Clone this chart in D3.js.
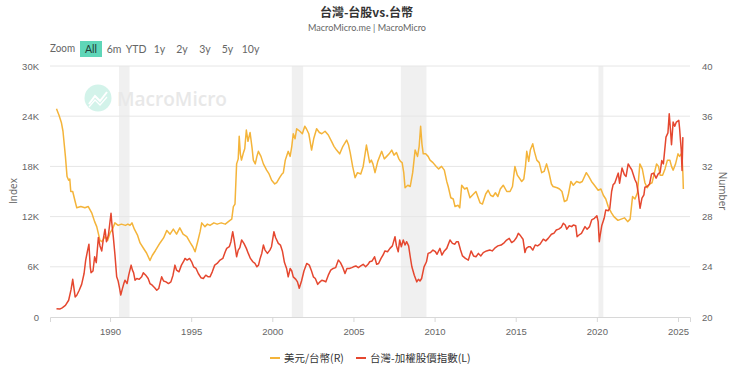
<!DOCTYPE html>
<html><head><meta charset="utf-8">
<script src="https://cdn.jsdelivr.net/npm/d3@7/dist/d3.min.js"></script>
<style>
body{margin:0;background:#fff;}
svg{display:block;font-family:"Open Sans","Noto Sans CJK TC",sans-serif;}
</style></head>
<body>
<svg id="chart" width="740" height="369"></svg>
<script>
// ---- data (decimal years) ----
const taiexDates = [1986.70,1986.90,1987.05,1987.25,1987.45,1987.60,1987.70,1987.78,1987.85,1987.95,1988.10,1988.25,1988.40,1988.50,1988.62,1988.70,1988.78,1988.83,1988.95,1989.05,1989.15,1989.28,1989.38,1989.49,1989.60,1989.69,1989.78,1989.90,1990.06,1990.12,1990.20,1990.30,1990.41,1990.50,1990.58,1990.66,1990.75,1990.85,1990.92,1991.05,1991.15,1991.30,1991.38,1991.45,1991.54,1991.65,1991.80,1991.95,1992.05,1992.20,1992.35,1992.46,1992.60,1992.75,1992.88,1993.00,1993.10,1993.18,1993.30,1993.45,1993.60,1993.75,1993.88,1994.00,1994.10,1994.25,1994.40,1994.55,1994.62,1994.75,1994.90,1995.03,1995.15,1995.30,1995.44,1995.60,1995.75,1995.90,1996.05,1996.16,1996.30,1996.45,1996.60,1996.78,1996.95,1997.10,1997.19,1997.35,1997.45,1997.56,1997.65,1997.80,1997.90,1998.00,1998.11,1998.25,1998.40,1998.52,1998.65,1998.80,1998.93,1999.05,1999.15,1999.25,1999.35,1999.45,1999.55,1999.70,1999.85,1999.95,2000.10,2000.20,2000.37,2000.50,2000.62,2000.75,2000.88,2000.98,2001.10,2001.20,2001.29,2001.45,2001.55,2001.66,2001.80,2001.95,2002.12,2002.28,2002.40,2002.53,2002.65,2002.80,2002.94,2003.05,2003.20,2003.30,2003.45,2003.60,2003.75,2003.90,2004.07,2004.20,2004.35,2004.48,2004.60,2004.75,2004.90,2005.00,2005.15,2005.30,2005.45,2005.60,2005.75,2005.90,2006.00,2006.15,2006.30,2006.43,2006.55,2006.70,2006.85,2006.94,2007.10,2007.25,2007.40,2007.56,2007.65,2007.76,2007.85,2007.95,2008.07,2008.18,2008.28,2008.40,2008.50,2008.60,2008.75,2008.90,2009.00,2009.10,2009.20,2009.35,2009.50,2009.60,2009.75,2009.90,2010.05,2010.15,2010.33,2010.45,2010.60,2010.75,2010.95,2011.10,2011.25,2011.35,2011.46,2011.60,2011.72,2011.90,2012.08,2012.25,2012.40,2012.55,2012.70,2012.85,2013.00,2013.20,2013.40,2013.55,2013.75,2013.90,2014.10,2014.30,2014.44,2014.60,2014.75,2014.90,2015.05,2015.16,2015.30,2015.45,2015.57,2015.65,2015.80,2015.90,2016.05,2016.20,2016.35,2016.50,2016.70,2016.85,2017.00,2017.20,2017.35,2017.50,2017.65,2017.80,2017.93,2018.05,2018.15,2018.30,2018.45,2018.55,2018.70,2018.78,2018.90,2019.05,2019.27,2019.40,2019.55,2019.68,2019.85,2020.00,2020.08,2020.15,2020.20,2020.30,2020.45,2020.55,2020.70,2020.80,2020.91,2021.00,2021.10,2021.32,2021.40,2021.55,2021.70,2021.80,2021.93,2022.05,2022.15,2022.35,2022.45,2022.55,2022.66,2022.78,2022.90,2022.96,2023.10,2023.25,2023.37,2023.50,2023.65,2023.78,2023.90,2024.00,2024.10,2024.26,2024.38,2024.46,2024.55,2024.60,2024.70,2024.80,2024.90,2025.05,2025.10,2025.15,2025.20,2025.25,2025.30];
const taiexValues = [1000,950,1100,1400,2000,3300,4500,3400,2400,2600,3200,3900,5200,6800,8000,8700,6000,5300,5500,7200,6500,9500,8500,7900,9500,10500,9000,9800,12400,11000,9600,7500,4800,4300,3500,2630,3300,4000,4400,4000,5000,6200,5600,5300,4400,4600,4500,4800,5300,5000,4600,4000,3800,3500,3200,3400,4200,4800,4300,4200,4000,4200,5000,6200,5600,5400,6200,6700,7000,6800,7000,6600,6000,5800,5200,4700,4600,5000,4800,4800,5400,6200,6400,6800,7000,7800,8200,8400,9000,10200,9200,7200,8000,8300,9200,8800,8200,7600,7000,6600,6400,6000,6200,7000,7600,8600,8000,7600,8000,8400,10200,9500,8800,8600,7900,6500,5800,4800,5800,5500,4800,4500,4200,3430,4300,5500,6400,6200,5600,4800,4600,3900,4200,4400,4300,4200,5000,5600,5800,5900,6800,6500,5900,5200,5800,5800,5900,6000,6100,5900,6100,6300,6000,6300,6600,6700,7200,6300,6400,7000,7500,7900,7800,8200,8500,9600,8500,7800,9200,8400,9200,8600,9000,8500,7200,6000,5000,4200,4500,4300,4600,6000,6600,7600,7700,8000,7800,7500,8200,7400,7900,8200,9200,8800,8700,9000,9000,8000,7300,7000,6800,7900,7300,7200,7600,7300,7700,7900,8000,7900,8300,8500,8600,8900,9200,9400,8900,9100,9500,10000,9700,9300,7700,8200,8400,8400,8000,8600,8500,8700,9300,9100,9400,9900,10000,10400,10500,10700,11200,11000,10500,10900,10800,11000,10900,9600,9800,10000,10800,10500,10800,11600,11800,12100,11400,9000,9700,10900,11800,12800,12700,13000,15000,15800,16000,17200,16000,17800,17000,16800,18300,17900,17600,16400,16000,14800,13000,14200,14600,15500,15600,15900,17100,17200,16600,17100,17300,18700,18300,21500,22000,24300,22000,20600,23300,22800,23300,23500,22500,21200,20000,17500,21500];

const usdDates = [1986.70,1986.85,1987.00,1987.10,1987.25,1987.35,1987.45,1987.52,1987.58,1987.70,1987.85,1987.95,1988.20,1988.45,1988.66,1988.87,1989.05,1989.18,1989.38,1989.50,1989.69,1989.85,1990.00,1990.15,1990.30,1990.50,1990.70,1990.95,1991.10,1991.23,1991.35,1991.50,1991.70,1991.85,1992.05,1992.25,1992.46,1992.60,1992.80,1993.08,1993.30,1993.50,1993.70,1993.90,1994.10,1994.30,1994.50,1994.73,1994.95,1995.10,1995.24,1995.40,1995.55,1995.65,1995.85,1996.00,1996.16,1996.40,1996.60,1996.85,1997.10,1997.39,1997.50,1997.60,1997.70,1997.80,1997.90,1997.96,1998.03,1998.10,1998.20,1998.30,1998.40,1998.50,1998.63,1998.75,1998.83,1998.95,1999.05,1999.14,1999.30,1999.45,1999.65,1999.80,1999.96,2000.15,2000.27,2000.45,2000.60,2000.68,2000.80,2000.98,2001.10,2001.20,2001.29,2001.40,2001.50,2001.70,2001.85,2002.00,2002.10,2002.25,2002.42,2002.55,2002.73,2002.90,2003.05,2003.25,2003.45,2003.65,2003.80,2003.96,2004.15,2004.35,2004.58,2004.70,2004.80,2004.95,2005.10,2005.25,2005.45,2005.60,2005.80,2005.90,2006.00,2006.10,2006.20,2006.33,2006.50,2006.74,2006.90,2007.05,2007.20,2007.36,2007.50,2007.65,2007.80,2007.90,2008.00,2008.10,2008.18,2008.35,2008.50,2008.65,2008.80,2008.95,2009.05,2009.14,2009.22,2009.30,2009.45,2009.60,2009.72,2009.90,2010.10,2010.25,2010.43,2010.60,2010.75,2010.84,2011.00,2011.15,2011.26,2011.45,2011.55,2011.67,2011.85,2012.00,2012.18,2012.40,2012.55,2012.80,2012.95,2013.15,2013.30,2013.45,2013.60,2013.75,2013.90,2014.05,2014.23,2014.45,2014.65,2014.80,2014.95,2015.10,2015.37,2015.50,2015.60,2015.68,2015.80,2015.90,2016.05,2016.15,2016.30,2016.45,2016.60,2016.75,2016.90,2017.05,2017.20,2017.30,2017.55,2017.70,2017.85,2018.00,2018.15,2018.25,2018.40,2018.55,2018.75,2018.95,2019.10,2019.35,2019.50,2019.67,2019.85,2020.08,2020.25,2020.40,2020.55,2020.70,2020.90,2021.05,2021.30,2021.50,2021.70,2021.90,2022.05,2022.20,2022.35,2022.50,2022.65,2022.80,2022.96,2023.10,2023.25,2023.40,2023.55,2023.68,2023.80,2023.90,2024.05,2024.20,2024.35,2024.50,2024.60,2024.70,2024.85,2025.00,2025.10,2025.20,2025.25,2025.30,2025.33];
const usdValues = [36.6,36.1,35.5,34.8,32.8,31.2,30.9,31.0,30.0,30.0,29.2,28.7,28.8,28.7,28.8,28.3,27.6,27.2,26.1,26.0,26.4,26.1,26.7,27.0,27.5,27.3,27.4,27.3,27.4,27.3,27.5,27.0,26.5,25.9,25.5,25.1,24.5,24.9,25.3,25.9,26.3,26.9,26.6,27.0,26.6,27.1,26.6,26.4,25.9,25.6,25.2,26.0,26.8,27.5,27.2,27.4,27.3,27.5,27.4,27.5,27.4,27.7,27.8,28.8,29.0,32.2,32.6,34.4,33.0,32.5,33.0,33.4,34.9,34.0,34.7,33.5,32.5,32.2,32.8,33.2,32.8,32.2,31.7,31.4,30.9,30.6,30.7,31.1,31.4,31.5,32.5,33.2,32.8,33.6,34.6,34.2,35.0,34.8,34.6,35.2,35.0,34.6,33.3,34.2,35.0,34.7,34.6,34.8,34.5,34.0,33.6,33.3,33.0,33.6,34.1,33.7,33.1,32.0,31.1,31.5,31.4,32.0,33.7,33.0,32.3,32.5,32.2,31.5,32.4,33.2,32.6,32.8,33.0,33.3,32.9,33.1,32.6,32.4,32.3,31.5,30.3,30.5,30.4,31.5,33.3,32.8,33.6,35.2,33.8,33.0,33.0,32.8,32.5,32.3,32.0,31.8,32.0,31.7,30.8,30.4,29.5,29.4,28.8,28.9,28.7,30.5,30.2,30.3,29.5,29.8,30.0,29.1,29.0,29.8,30.1,29.7,29.6,29.9,29.6,30.2,30.5,30.0,30.0,30.4,32.0,31.3,30.8,31.0,32.0,33.2,32.4,33.3,33.8,33.2,32.5,32.3,31.5,31.6,32.2,31.5,30.6,30.4,30.3,30.2,30.0,29.2,29.3,29.8,30.8,30.5,30.8,30.7,30.8,31.5,31.2,30.8,30.5,30.1,30.2,29.7,29.4,28.8,28.3,28.0,27.7,27.8,27.9,27.6,27.8,29.6,29.4,29.9,32.2,31.8,30.7,30.3,30.6,30.7,31.5,32.2,32.0,31.3,31.3,31.8,32.5,32.5,32.0,31.7,32.2,33.0,32.8,33.0,32.8,31.5,30.2];

const leftTicks = [0,6000,12000,18000,24000,30000];
const rightTicks = [20,24,28,32,36,40];
const xTicks = [1990,1995,2000,2005,2010,2015,2020,2025];
const bands = [[1990.55,1991.2],[2001.2,2001.9],[2007.92,2009.5],[2020.1,2020.4]];
const seriesNames = ["美元/台幣(R)","台灣-加權股價指數(L)"];
const zoomButtons = ["6m","YTD","1y","2y","3y","5y","10y"];

const cUSD = "#f4b43a", cTW = "#e5472f";

const svg = d3.select("#chart");
const L = 50, R = 690, T = 66, B = 317;
const x = d3.scaleLinear().domain([1986.3, 2025.74]).range([L, R]);
const yL = d3.scaleLinear().domain([0,30000]).range([B, T]);
const yR = d3.scaleLinear().domain([20,40]).range([B, T]);

// title
svg.append("text").attr("x",366.5).attr("y",17).attr("text-anchor","middle")
  .attr("font-size",12).attr("font-weight","bold").attr("fill","#333")
  .attr("font-family","'Noto Sans CJK TC',sans-serif").text("台灣-台股vs.台幣");
svg.append("text").attr("x",367).attr("y",31).attr("text-anchor","middle")
  .attr("font-size",10).attr("fill","#666").attr("font-family","Lato,sans-serif")
  .attr("textLength",118).attr("lengthAdjust","spacingAndGlyphs").text("MacroMicro.me | MacroMicro");

// zoom buttons
const bf = "Lato,sans-serif";
svg.append("text").attr("x",50).attr("y",52).attr("font-size",10.5).attr("font-family",bf).attr("fill","#666")
  .attr("textLength",25).attr("lengthAdjust","spacingAndGlyphs").text("Zoom");
svg.append("rect").attr("x",80).attr("y",41).attr("width",22).attr("height",16).attr("fill","#5fd6b8");
svg.append("text").attr("x",91).attr("y",52.5).attr("text-anchor","middle").attr("font-size",10.5).attr("font-family",bf).attr("fill","#1f3b35").text("All");
const btnX = [114,136,159.5,182,205,227.5,250.5];
zoomButtons.forEach((b,i)=>{
  svg.append("text").attr("x",btnX[i]).attr("y",52.5).attr("text-anchor","middle").attr("font-size",10.5).attr("font-family",bf).attr("fill","#666").text(b);
});

// plot bands
svg.append("g").selectAll("rect").data(bands).join("rect")
  .attr("x",d=>x(d[0])).attr("width",d=>x(d[1])-x(d[0]))
  .attr("y",T).attr("height",B-T).attr("fill","#f0f0f0");

// gridlines
svg.append("g").selectAll("line").data(leftTicks.slice(1)).join("line")
  .attr("x1",L).attr("x2",R).attr("y1",d=>yL(d)).attr("y2",d=>yL(d))
  .attr("stroke","#e6e6e6").attr("stroke-width",1);

// watermark
const wm = svg.append("g");
wm.append("circle").attr("cx",98).attr("cy",98).attr("r",13.5).attr("fill","#d3f3ea");
wm.append("path").attr("d","M89,104 L95,96 L100,101 L107,92").attr("stroke","#fff").attr("stroke-width",2).attr("fill","none");
wm.append("path").attr("d","M89,107 L95,100 L100,105 L107,97").attr("stroke","#fff").attr("stroke-width",1.2).attr("fill","none");
wm.append("text").attr("x",117).attr("y",106).attr("font-size",19).attr("font-weight",600)
  .attr("fill","#e8e8e8").attr("textLength",110).attr("lengthAdjust","spacingAndGlyphs").text("MacroMicro");

// x axis
const xa = svg.append("g").attr("transform",`translate(0,${B})`)
  .call(d3.axisBottom(x).tickValues(xTicks).tickFormat(d3.format("d")).tickSize(5).tickPadding(6));
xa.select(".domain").attr("stroke","#d8d8d8");
xa.selectAll(".tick line").attr("stroke","#d8d8d8");
xa.selectAll("text").attr("fill","#666").attr("font-size",9.5);

// left axis
const la = svg.append("g").attr("transform",`translate(${L-8},0)`)
  .call(d3.axisLeft(yL).tickValues(leftTicks).tickSize(0).tickFormat(d=>d===0?"0":(d/1000)+"K"));
la.select(".domain").remove();
la.selectAll("text").attr("fill","#666").attr("font-size",9.5);

// right axis
const ra = svg.append("g").attr("transform",`translate(${R+9},0)`)
  .call(d3.axisRight(yR).tickValues(rightTicks).tickSize(0));
ra.select(".domain").remove();
ra.selectAll("text").attr("fill","#666").attr("font-size",9.5);

// axis titles
svg.append("text").attr("transform","translate(17,191) rotate(-90)").attr("text-anchor","middle")
  .attr("font-size",10).attr("fill","#666").text("Index");
svg.append("text").attr("transform","translate(719,191) rotate(90)").attr("text-anchor","middle")
  .attr("font-size",10).attr("fill","#666").text("Number");

// lines
const twData = taiexDates.map((d,i)=>[d,taiexValues[i]]);
const usData = usdDates.map((d,i)=>[d,usdValues[i]]);
svg.append("path").datum(usData).attr("fill","none").attr("stroke",cUSD).attr("stroke-width",1.5)
  .attr("stroke-linejoin","round").attr("d",d3.line().x(d=>x(d[0])).y(d=>yR(d[1])));
svg.append("path").datum(twData).attr("fill","none").attr("stroke",cTW).attr("stroke-width",1.5)
  .attr("stroke-linejoin","round").attr("d",d3.line().x(d=>x(d[0])).y(d=>yL(d[1])));

// legend
const leg = [{n:seriesNames[0],c:cUSD,x:270},{n:seriesNames[1],c:cTW,x:356}];
leg.forEach(l=>{
  svg.append("line").attr("x1",l.x).attr("x2",l.x+10).attr("y1",358).attr("y2",358).attr("stroke",l.c).attr("stroke-width",2);
  svg.append("text").attr("x",l.x+14).attr("y",362).attr("font-size",10.5).attr("fill","#333")
    .attr("font-family","'Noto Sans CJK TC',sans-serif").text(l.n);
});
</script>
</body></html>
